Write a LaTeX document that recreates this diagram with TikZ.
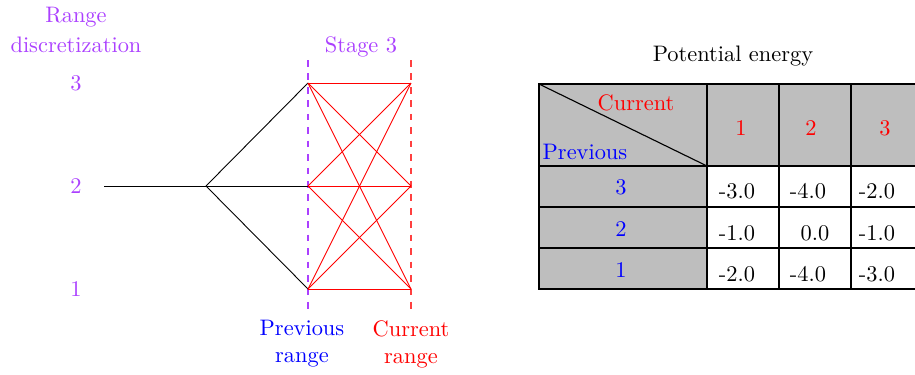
\documentclass[tikz,border=0pt]{standalone}
\definecolor{pur}{rgb}{0.67,0.25,1}
\definecolor{cellgray}{RGB}{190,190,190}
\begin{document}
\begin{tikzpicture}[x=0.4464pt,y=-0.4464pt,
  lbl/.style={inner sep=0pt,align=center},
  blk/.style={draw=black,line width=0.4pt},
  rd/.style={draw=red,line width=0.4pt},
  gcell/.style={fill=cellgray,draw=black,line width=0.6pt},
  wcell/.style={fill=white,draw=black,line width=0.6pt}]
\clip (0,0) rectangle (915,374);
% labels left
\node[lbl,text=pur] (rd) at (76,30) {Range\\[1pt]discretization};
\node[lbl,text=pur] (n3) at (76,83) {3};
\node[lbl,text=pur] (n2) at (76,186) {2};
\node[lbl,text=pur] (n1) at (76,289) {1};
\node[lbl,text=pur] (st) at (361,47) {Stage 3};
% points
\coordinate (p0) at (104,186);
\coordinate (s) at (206,186);
\coordinate (a3) at (308,83);
\coordinate (a2) at (308,186);
\coordinate (a1) at (308,289);
\coordinate (b3) at (411,83);
\coordinate (b2) at (411,186);
\coordinate (b1) at (411,289);
\coordinate (ta) at (308,60);
\coordinate (ua) at (308,310);
\coordinate (tb) at (411,60);
\coordinate (ub) at (411,310);
\draw[pur,dashed,line width=0.5pt] (ta) -- (ua);
\draw[red!75,dashed,line width=0.5pt] (tb) -- (ub);
\draw[blk] (p0) -- (s);
\draw[blk] (s) -- (a3);
\draw[blk] (s) -- (a2);
\draw[blk] (s) -- (a1);
\foreach \i in {1,2,3}{\foreach \j in {1,2,3}{\draw[rd] (a\i) -- (b\j);}}
\node[lbl,text=blue] (pr) at (302,344) {Previous\\range};
\node[lbl,text=red] (cr) at (411,344) {Current\\range};
% table
\node[lbl] (pe) at (733,56) {Potential energy};
\draw[gcell] (539,84) rectangle (707,166);
\draw[gcell] (707,84) rectangle (779,166);
\draw[gcell] (779,84) rectangle (851,166);
\draw[gcell] (851,84) rectangle (923,166);
\draw[black,line width=0.5pt] (539,84) -- (707,166);
\foreach \r/\t/\b in {3/166/207,2/207/248,1/248/289}{
  \draw[gcell] (539,\t) rectangle (707,\b);
  \draw[wcell] (707,\t) rectangle (779,\b);
  \draw[wcell] (779,\t) rectangle (851,\b);
  \draw[wcell] (851,\t) rectangle (923,\b);
}
\node[lbl,text=red] (hc) at (636,103) {Current};
\node[lbl,text=blue] (hp) at (585,152) {Previous};
\node[lbl,text=red] (c1) at (741,128) {1};
\node[lbl,text=red] (c2) at (811,128) {2};
\node[lbl,text=red] (c3) at (885,128) {3};
\node[lbl,text=blue] (r3) at (621,187) {3};
\node[lbl,text=blue] (r2) at (621,229) {2};
\node[lbl,text=blue] (r1) at (621,270) {1};
\node[lbl] (v33) at (737,191) {-3.0};
\node[lbl] (v32) at (808,191) {-4.0};
\node[lbl] (v31) at (877,191) {-2.0};
\node[lbl] (v23) at (737,233) {-1.0};
\node[lbl] (v22) at (815,233) {0.0};
\node[lbl] (v21) at (877,233) {-1.0};
\node[lbl] (v13) at (737,274) {-2.0};
\node[lbl] (v12) at (808,274) {-4.0};
\node[lbl] (v11) at (877,274) {-3.0};
\end{tikzpicture}
\end{document}
